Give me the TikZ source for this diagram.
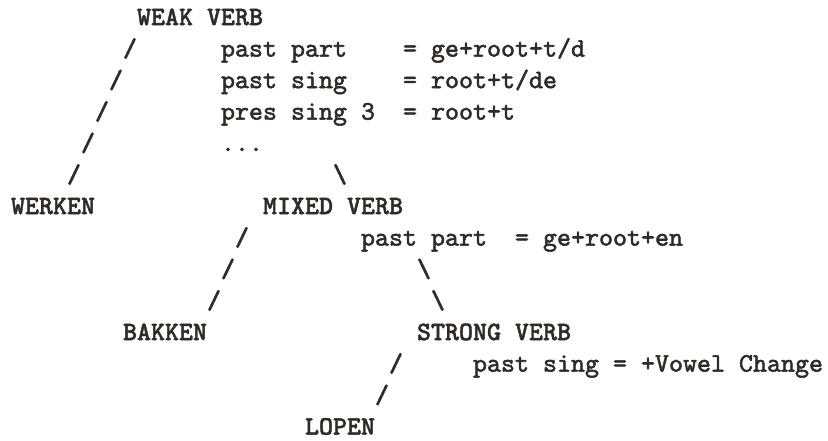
\documentclass[tikz,border=0pt]{standalone}
\usepackage{fontspec}
\newfontfamily\ttlow{lmmono10-regular}[Extension=.otf, FakeBold=2]
\newfontfamily\tthigh{lmmonolt10-bold}[Extension=.otf, FakeBold=1.5]
\definecolor{ink}{RGB}{48,43,38}
\tikzset{
  txt/.style={anchor=base west, inner sep=0pt, outer sep=0pt, text=ink,
    font=\fontsize{26.67}{31.5}\ttlow\selectfont},
  capslbl/.style={txt, font=\fontsize{26.67}{31.5}\tthigh\selectfont},
  slashmark/.style={capslbl}
}
\begin{document}
\begin{tikzpicture}
\useasboundingbox (0pt,0pt) rectangle (828pt,-440pt);
\begin{scope}[shift={(11pt,-25.1pt)}, x=14pt, y=-31.5pt]
% row 0
\node[capslbl] (weak) at (9,0) {WEAK VERB};
% rows 1-5 : weak verb block
\node[slashmark] (w1) at (8,1) {/};
\node[txt] (wpp) at (15,1) {past part~~~~=~ge+root+t/d};
\node[slashmark] (w2) at (7,2) {/};
\node[txt] (wps) at (15,2) {past sing~~~~=~root+t/de};
\node[slashmark] (w3) at (6,3) {/};
\node[txt] (wpr) at (15,3) {pres~sing~3~~=~root+t};
\node[slashmark] (w4) at (5,4) {/};
\node[txt] (wdots) at (15,4) {...};
\node[slashmark] (w5) at (4,5) {/};
\node[slashmark] (wm) at (23,5) {\textbackslash};
% row 6
\node[capslbl] (werken) at (0,6) {WERKEN};
\node[capslbl] (mixed) at (18,6) {MIXED VERB};
% rows 7-9 : mixed verb block
\node[slashmark] (m1) at (16,7) {/};
\node[txt] (mpp) at (25,7) {past part~~=~ge+root+en};
\node[slashmark] (m2) at (15,8) {/};
\node[slashmark] (ms1) at (29,8) {\textbackslash};
\node[slashmark] (m3) at (14,9) {/};
\node[slashmark] (ms2) at (30,9) {\textbackslash};
% row 10
\node[capslbl] (bakken) at (8,10) {BAKKEN};
\node[capslbl] (strong) at (29,10) {STRONG VERB};
% rows 11-12 : strong verb block
\node[slashmark] (s1) at (27,11) {/};
\node[txt] (sps) at (33,11) {past~sing~=~+Vowel~Change};
\node[slashmark] (s2) at (26,12) {/};
% row 13
\node[capslbl] (lopen) at (21,13) {LOPEN};
\end{scope}
\end{tikzpicture}
\end{document}
